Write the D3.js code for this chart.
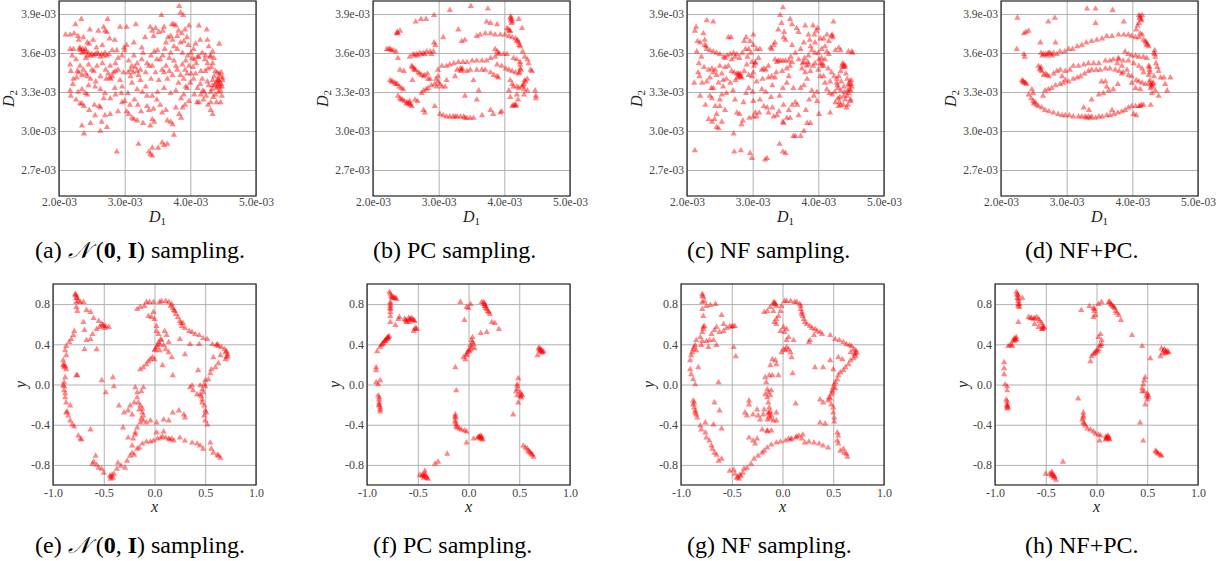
<!DOCTYPE html>
<html><head><meta charset="utf-8">
<script src="https://cdn.jsdelivr.net/npm/d3@7"></script>
<style>body{margin:0;background:#fff}svg{display:block}</style>
</head><body><svg id="c" width="1225" height="561"></svg>
<script>
// ---- data (top row in units of 1e-3) ----
const dataA=[[2.10,3.74],[2.17,3.74],[2.25,3.82],[2.34,3.86],[2.23,3.75],[2.29,3.73],
[2.32,3.64],[2.36,3.63],[2.41,3.61],[2.45,3.60],[2.50,3.59],[2.55,3.59],[2.60,3.59],[2.65,3.59],[2.70,3.60],[2.76,3.59],[2.81,3.62],[2.43,3.68],[2.46,3.67],[2.41,3.56],[2.53,3.58],[2.63,3.57],[2.17,3.63],[2.22,3.63],
[2.33,3.62],[2.38,3.61],[2.43,3.58],[2.48,3.58],[2.58,3.60],[2.68,3.58],[2.73,3.58],[2.35,3.60],[2.40,3.63],[2.31,3.63],
[2.47,3.78],[2.60,3.77],[2.70,3.77],[2.74,3.86],[2.73,3.76],[2.77,3.71],[2.68,3.80],
[2.17,3.51],[2.18,3.46],[2.32,3.50],[2.37,3.47],[2.35,3.43],[2.43,3.42],[2.48,3.40],[2.58,3.50],[2.63,3.42],[2.71,3.47],[2.78,3.50],[2.86,3.52],[2.81,3.42],[2.79,3.40],
[2.17,3.31],[2.18,3.27],[2.35,3.32],[2.40,3.29],[2.43,3.28],[2.55,3.34],[2.63,3.32],[2.70,3.29],[2.78,3.25],[2.68,3.25],[2.54,3.20],[2.61,3.19],[2.35,3.21],[2.38,3.19],[2.63,3.18],[2.32,3.21],
[2.48,3.06],[2.35,3.04],[2.38,2.98],[2.65,3.07],[2.73,3.03],[2.63,3.00],[2.78,3.13],[2.88,2.84],
[2.93,3.39],[2.96,3.34],[2.98,3.45],[2.99,3.64],[3.00,3.62],[3.03,3.66],[3.03,3.80],[2.93,3.80],[3.05,3.45],[3.09,3.42],[3.11,3.50],[3.14,3.58],[3.14,3.68],[3.17,3.82],[3.19,3.46],[3.24,3.47],[3.24,3.39],[3.19,3.32],[3.11,3.37],[3.15,3.24],[3.00,3.23],[2.96,3.22],[3.03,3.15],[3.11,3.10],[3.14,3.09],[3.19,3.08],[3.06,3.13],
[3.34,3.52],[3.37,3.50],[3.42,3.50],[3.39,3.80],[3.42,3.77],[3.44,3.73],[3.45,3.61],[3.49,3.55],[3.54,3.55],[3.57,3.47],[3.56,3.89],[3.58,3.77],[3.61,3.63],[3.63,3.68],[3.70,3.73],[3.72,3.82],[3.75,3.82],[3.78,3.81],[3.83,3.96],[3.85,3.91],[3.89,3.89],[3.80,3.73],[3.87,3.75],[3.85,3.68],[3.90,3.69],[3.95,3.72],[3.98,3.81],
[3.75,3.54],[3.78,3.50],[3.80,3.47],[3.85,3.43],[3.90,3.40],[3.95,3.44],[3.88,3.51],[3.93,3.54],[4.01,3.60],[4.03,3.56],[3.98,3.50],[4.01,3.44],[4.06,3.55],[4.11,3.57],[4.13,3.81],
[3.32,3.34],[3.34,3.27],[3.42,3.27],[3.34,3.19],[3.37,3.16],[3.44,3.17],[3.49,3.24],[3.54,3.20],[3.57,3.14],[3.42,3.09],[3.39,3.04],[3.45,3.07],[3.63,3.16],[3.65,3.08],[3.70,3.07],[3.73,3.05],[3.75,2.97],[3.78,3.18],[3.83,3.13],[3.86,3.10],[3.88,3.18],[3.92,3.20],[3.95,3.33],[3.98,3.23],[3.93,3.34],[3.78,3.31],[3.70,3.29],[3.60,3.33],
[3.21,2.90],[3.42,2.87],[3.57,2.91],[3.60,2.89],[3.65,2.90],[3.51,2.87],[3.37,2.84],[3.42,2.81],[3.39,2.82],
[4.16,3.46],[4.18,3.40],[4.21,3.30],[4.16,3.28],[4.13,3.22],[4.06,3.28],[4.11,3.33],[4.13,3.57],[4.18,3.60],[4.23,3.58],[4.26,3.52],[4.23,3.46],[4.26,3.38],[4.28,3.35],[4.31,3.30],[4.31,3.22],[4.31,3.16],[4.34,3.13],[4.34,3.35],[4.34,3.39],[4.36,3.42],[4.38,3.46],[4.39,3.37],[4.42,3.34],[4.43,3.39],[4.44,3.38],[4.45,3.34],[4.48,3.34],[4.49,3.39],[4.46,3.31],[4.48,3.27],[4.46,3.22],[4.44,3.67],[4.34,3.61],[4.31,3.58],[4.34,3.52],[4.26,3.70],[4.25,3.78],[4.28,3.65],[4.30,3.57],[4.41,3.45],[4.44,3.44],[4.49,3.41],
[4.42,3.40],[4.43,3.36],[4.40,3.33],[4.45,3.42],[4.37,3.35],[4.33,3.32],[4.47,3.36],[4.41,3.38],[4.32,3.49],[4.36,3.56],[4.22,3.55],[4.27,3.48],[4.09,3.52],[4.04,3.49],[3.96,3.58],[4.05,3.63],[3.92,3.47],[4.19,3.31],[4.20,3.24],
[3.75,3.65],[3.80,3.63],[3.68,3.56],[3.63,3.50],[3.68,3.46],[3.52,3.39],[3.19,3.52],[3.26,3.64],[3.26,3.55],[3.31,3.72],[2.88,3.62],[2.86,3.46],[2.90,3.47],[2.53,3.46],[2.27,3.41],[2.22,3.40],[2.21,3.36],
[2.75,3.44],[2.77,3.41],[2.83,3.45],[2.28,3.46],[2.30,3.45],[2.41,3.44],[3.09,3.47],[3.13,3.45],[3.16,3.49],[3.06,3.54],[3.21,3.43],
[3.47,3.79],[3.52,3.76],[3.60,3.80],[3.66,3.72],[3.73,3.70],[3.82,3.77],[3.92,3.78],[3.97,3.66],[4.08,3.67],[4.15,3.70],[3.28,3.60],[3.40,3.58],[3.50,3.62],[3.58,3.58],[3.70,3.60],[3.88,3.60],[3.65,3.40],[3.73,3.43],[3.82,3.37],[3.60,3.45],[3.47,3.45],[3.40,3.40],[3.32,3.45],[3.27,3.30],[3.50,3.30],[3.86,3.25],[3.90,3.28],[4.00,3.37],[4.05,3.40],[4.08,3.44],[4.10,3.22],[4.15,3.36],[4.24,3.27],[4.27,3.20],[4.38,3.28],[4.40,3.22],[4.35,3.26],[4.47,3.45],[4.43,3.30],
[2.20,3.58],[2.26,3.55],[2.30,3.70],[2.37,3.72],[2.52,3.70],[2.57,3.64],[2.66,3.66],[2.85,3.70],[2.90,3.56],[2.96,3.58],[2.45,3.51],[2.50,3.47],[2.66,3.52],[2.72,3.40],[2.56,3.38],[2.45,3.35],[2.29,3.30],[2.26,3.24],[2.46,3.16],[2.55,3.12],[2.70,3.12],[2.86,3.28],[2.90,3.15],[2.85,3.33],[2.95,3.29],[3.05,3.29],[3.08,3.20],[3.20,3.20],[3.25,3.15],[3.28,3.06]];

const dataB=[[2.21,3.63],[2.26,3.63],[2.31,3.62],[2.35,3.61],[2.38,3.56],[2.24,3.63],[2.28,3.62],
[2.37,3.76],[2.41,3.77],[2.38,3.75],[2.36,3.75],
[2.26,3.39],[2.30,3.38],[2.33,3.37],[2.37,3.36],[2.40,3.34],[2.43,3.33],[2.46,3.32],[2.28,3.38],[2.35,3.36],
[2.38,3.27],[2.41,3.25],[2.45,3.24],[2.48,3.23],[2.52,3.22],[2.56,3.21],[2.59,3.19],[2.51,3.21],[2.47,3.46],[2.43,3.24],[2.54,3.21],[2.57,3.20],
[2.59,3.50],[2.62,3.48],[2.65,3.47],[2.69,3.45],[2.74,3.43],[2.79,3.43],[2.83,3.44],[2.87,3.40],[2.60,3.49],[2.63,3.47],[2.71,3.44],[2.77,3.42],
[2.56,3.57],[2.61,3.59],[2.66,3.59],[2.71,3.60],[2.77,3.60],[2.82,3.61],[2.87,3.61],[2.92,3.61],[2.89,3.59],[2.63,3.58],[2.68,3.58],[2.74,3.59],[2.79,3.59],
[2.65,3.84],[2.73,3.86],[2.81,3.86],[2.93,3.89],[3.17,3.93],[3.49,3.96],[3.75,3.94],
[2.93,3.68],[2.95,3.66],[3.07,3.72],[3.30,3.78],[3.35,3.69],[3.40,3.70],
[3.58,3.73],[3.63,3.74],[3.71,3.75],[3.79,3.75],[3.86,3.74],[3.94,3.74],[4.01,3.74],[4.07,3.73],[4.12,3.72],[3.73,3.84],[3.79,3.83],[3.89,3.82],
[4.09,3.87],[4.10,3.85],[4.11,3.86],[4.12,3.84],[4.10,3.88],[4.11,3.83],[4.22,3.86],[4.27,3.79],
[4.04,3.79],[4.08,3.77],[4.09,3.77],[4.17,3.71],[4.19,3.69],[4.22,3.68],[4.24,3.65],[4.28,3.61],[4.31,3.57],[4.35,3.55],[4.37,3.52],[4.40,3.47],[4.42,3.46],[4.20,3.70],[4.23,3.66],[4.06,3.78],
[2.99,3.47],[3.05,3.50],[3.12,3.50],[3.17,3.51],[3.23,3.52],[3.30,3.53],[3.37,3.53],[3.43,3.53],[3.51,3.54],[3.58,3.54],[3.66,3.54],[3.73,3.54],[3.79,3.56],[3.86,3.57],[3.91,3.59],[3.99,3.59],[4.04,3.59],
[3.86,3.63],[3.89,3.61],[3.92,3.60],
[3.28,3.47],[3.33,3.48],[3.35,3.47],[3.43,3.46],[3.48,3.47],[3.58,3.47],[3.66,3.47],[3.71,3.47],[3.79,3.45],[3.84,3.43],[3.89,3.42],[3.91,3.41],[3.36,3.48],[3.34,3.46],
[3.89,3.51],[3.96,3.50],[4.02,3.48],[4.07,3.47],[4.12,3.46],[4.17,3.45],[4.22,3.44],[4.24,3.48],[4.24,3.51],[4.14,3.56],[4.19,3.55],[4.24,3.53],[4.23,3.45],[4.25,3.47],
[4.09,3.39],[4.12,3.36],[4.14,3.34],[4.19,3.34],[4.22,3.33],[4.27,3.34],[4.30,3.36],[4.32,3.38],[4.30,3.32],[4.35,3.40],[4.07,3.31],[4.09,3.26],[4.12,3.19],[4.14,3.20],[4.18,3.20],[4.21,3.24],[4.19,3.28],[4.30,3.28],[4.35,3.31],[4.47,3.31],[4.48,3.27],[4.48,3.25],[4.28,3.35],[4.31,3.39],[4.16,3.20],[4.17,3.19],
[3.96,3.15],[3.94,3.14],[3.79,3.16],[3.83,3.13],[3.66,3.12],
[3.02,3.13],[3.07,3.12],[3.12,3.11],[3.17,3.11],[3.22,3.11],[3.28,3.11],[3.33,3.11],[3.38,3.11],[3.43,3.10],[3.48,3.10],[3.53,3.10],[3.25,3.11],[3.40,3.10],
[2.94,3.19],[2.77,3.16],[2.79,3.14],[2.68,3.23],[2.74,3.29],[2.77,3.31],[2.81,3.32],[2.84,3.33],[2.89,3.35],[2.94,3.36],[2.97,3.34],[3.05,3.34],[3.10,3.34],[2.84,3.40],[2.96,3.40],[2.99,3.38],[3.12,3.39],[3.53,3.39],[3.61,3.31],[3.40,3.27],[3.58,3.24],[3.25,3.42],[2.99,3.42],[3.02,3.36],
[2.41,3.47],[2.56,3.23],[2.64,3.24],[2.60,3.39]];

const dataC=[[2.11,3.37],[2.12,2.85],[2.14,3.80],[2.12,3.77],[2.16,3.69],[2.20,3.68],[2.17,3.45],[2.19,3.42],[2.23,3.37],[2.20,3.27],[2.25,3.75],[2.27,3.70],[2.29,3.65],[2.22,3.57],[2.30,3.85],[2.40,3.84],[2.35,3.62],[2.40,3.61],[2.45,3.60],[2.50,3.59],[2.33,3.47],[2.35,3.41],[2.37,3.33],[2.43,3.47],[2.45,3.43],[2.48,3.37],[2.40,3.33],[2.35,3.27],[2.43,3.19],[2.50,3.19],[2.33,3.09],[2.38,3.07],[2.42,3.09],[2.48,3.02],[2.45,3.03],
[2.50,3.50],[2.53,3.44],[2.55,3.39],[2.55,3.34],[2.60,3.29],[2.50,3.24],[2.53,3.07],[2.58,3.16],[2.61,3.58],[2.66,3.59],[2.71,3.60],[2.76,3.59],[2.63,3.72],[2.67,3.72],[2.58,3.49],[2.68,3.46],[2.72,3.45],[2.76,3.44],[2.79,3.43],[2.82,3.42],[2.74,3.39],[2.66,3.37],[2.70,3.31],[2.73,3.24],[2.76,3.14],[2.80,3.13],[2.71,2.98],[2.72,2.84],[2.82,2.85],[2.83,3.05],[2.86,3.22],[2.90,3.29],[2.94,3.33],[2.89,3.63],[2.87,3.69],[2.90,3.72],[2.96,3.69],[2.94,3.63],[2.91,3.51],[2.87,3.46],[2.94,3.43],[2.99,3.42],[3.01,3.45],[3.04,3.53],[2.99,3.53],[3.01,3.66],[3.01,3.74],[2.96,2.83],[2.99,2.79],[3.01,3.23],[3.04,3.14],[3.01,3.11],[3.06,3.11],
[2.78,3.44],[2.80,3.42],[2.77,3.41],[2.81,3.44],[2.83,3.41],[2.56,3.57],[2.58,3.56],[2.30,3.63],[2.27,3.66],[2.40,3.45],[2.38,3.48],[3.04,3.52],[3.02,3.50],
[3.11,3.63],[3.14,3.47],[3.17,3.48],[3.20,3.47],[3.24,3.50],[3.27,3.64],[3.29,3.63],[3.32,3.66],[3.34,3.68],[3.34,3.55],[3.37,3.53],[3.39,3.54],[3.42,3.54],[3.46,3.54],[3.50,3.54],[3.55,3.54],[3.60,3.53],[3.29,3.42],[3.34,3.41],[3.24,3.41],[3.14,3.32],[3.11,3.24],[3.17,3.19],[3.22,3.18],[3.24,3.14],[3.32,3.11],[3.37,3.12],[3.46,3.07],[3.47,3.06],[3.52,3.10],[3.57,3.10],[3.41,3.27],[3.46,3.33],[3.52,3.37],[3.55,3.42],[3.57,3.50],[3.39,3.78],[3.44,3.83],[3.46,3.95],[3.42,3.89],[3.48,3.76],[3.47,3.72],[3.57,3.86],[3.60,3.82],[3.67,3.79],[3.70,3.76],[3.73,3.63],[3.78,3.53],[3.79,3.56],[3.80,3.81],[3.85,3.74],[3.87,3.70],[3.92,3.81],[3.97,3.77],[3.99,3.79],[3.94,3.74],[3.95,3.68],[4.03,3.71],[3.95,3.52],[3.92,3.50],[3.85,3.51],[3.88,3.46],[3.83,3.40],[3.78,3.35],[3.73,3.33],[3.62,3.33],[3.65,3.22],[3.68,3.20],[3.73,2.96],[3.62,2.96],[3.78,3.00],[3.83,3.06],[3.88,3.06],[3.81,3.16],[3.86,3.24],[3.90,3.31],[3.93,3.27],[3.98,3.30],[3.98,3.23],[4.01,3.13],[4.03,3.42],[4.01,3.55],[4.06,3.52],[4.08,3.50],[4.10,3.65],[4.13,3.61],[4.16,3.59],[4.05,3.63],[4.08,3.71],[4.13,3.74],[4.21,3.74],[4.16,3.69],[4.23,3.84],[4.08,3.42],[4.10,3.37],[4.13,3.32],[4.17,3.29],[4.21,3.28],[4.18,3.14],[4.26,3.22],[4.31,3.19],[4.34,3.20],[4.29,3.35],[4.30,3.33],[4.34,3.31],[4.39,3.34],[4.39,3.27],[4.41,3.24],[4.44,3.27],[4.46,3.29],[4.49,3.31],[4.49,3.24],[4.46,3.36],[4.48,3.38],[4.50,3.39],[4.51,3.34],[4.49,3.23],[4.36,3.50],[4.39,3.51],[4.40,3.49],[4.34,3.46],[4.31,3.42],[4.26,3.62],[4.31,3.64],[4.34,3.62],[4.46,3.61],[4.51,3.61],[4.52,3.60],[4.24,3.42],[4.28,3.40],
[4.38,3.49],[4.41,3.50],[4.37,3.52],[4.47,3.35],[4.48,3.32],[4.45,3.31],[4.50,3.36],[4.33,3.26],[4.32,3.22],[4.28,3.37],[4.03,3.52],[4.05,3.50],[4.00,3.47],[4.20,3.73],[4.22,3.72],[3.82,3.50],[3.84,3.53],[3.76,3.52],
[3.41,2.90],[3.46,2.84],[3.50,2.83],[3.19,2.78],[3.22,2.79],[3.65,2.96],
[2.15,3.61],[2.18,3.52],[2.26,3.49],[2.30,3.38],[2.28,3.20],[2.38,3.25],[2.45,3.13],[2.53,3.28],[2.60,3.40],[2.63,3.50],[2.68,3.55],[2.73,3.57],[2.80,3.56],[2.84,3.60],[2.92,3.57],[2.97,3.60],[3.06,3.63],[3.09,3.56],[3.15,3.40],[3.20,3.30],[3.28,3.26],[3.30,3.35],[3.36,3.45],[3.45,3.46],[3.52,3.48],[3.58,3.57],[3.65,3.60],[3.70,3.55],[3.75,3.48],[3.80,3.45],[3.85,3.58],[3.90,3.62],[3.95,3.60],[4.00,3.60],[4.05,3.56],[4.10,3.55],[4.15,3.48],[4.20,3.45],[4.18,3.38],[4.25,3.30],[4.35,3.38],[4.42,3.44],[4.44,3.40],[4.40,3.30],[4.45,3.20],[4.43,3.18],[4.38,3.20],[4.30,3.25],[3.60,3.20],[3.55,3.16],[3.70,3.12],[3.47,3.20],[3.40,3.15],[3.30,3.18],[3.10,3.14],[3.00,3.30],[3.06,3.38],[2.95,3.10],[2.85,3.08],[3.50,3.70],[3.60,3.66],[3.78,3.68],[3.88,3.65]];

const dataD=[[2.24,3.63],[2.25,3.87],[2.35,3.75],[2.38,3.76],[2.42,3.77],[2.35,3.59],[2.36,3.57],
[2.32,3.39],[2.34,3.38],[2.37,3.37],[2.39,3.36],[2.33,3.38],[2.36,3.37],[2.42,3.28],[2.47,3.32],[2.49,3.29],[2.46,3.25],[2.49,3.23],[2.52,3.22],[2.57,3.19],[2.62,3.18],[2.67,3.16],[2.73,3.15],[2.80,3.14],[2.87,3.13],[2.93,3.12],[2.98,3.12],[3.04,3.12],[3.10,3.11],[3.18,3.11],[3.23,3.11],[3.28,3.11],[3.33,3.11],[3.38,3.11],[3.44,3.10],[3.49,3.11],[3.54,3.11],[3.61,3.12],[3.66,3.12],[3.72,3.13],[3.78,3.14],[3.84,3.15],[3.89,3.16],[3.94,3.18],[3.99,3.19],[4.05,3.19],[4.10,3.19],[4.14,3.20],[4.17,3.20],[2.50,3.21],[2.54,3.20],[3.30,3.10],[3.36,3.10],[4.12,3.19],
[2.60,3.68],[2.61,3.60],[2.65,3.59],[2.68,3.59],[2.72,3.60],[2.76,3.59],[2.80,3.60],[2.83,3.68],[2.72,3.84],[2.82,3.87],[2.85,3.59],[2.90,3.61],[2.97,3.61],[3.03,3.63],[3.09,3.63],[3.16,3.65],[3.23,3.66],[3.30,3.68],[3.38,3.69],[3.46,3.70],[3.54,3.71],[3.61,3.73],[3.69,3.73],[3.79,3.74],[3.87,3.74],[3.94,3.74],[3.99,3.73],[4.05,3.72],[4.10,3.72],[4.12,3.75],[4.15,3.74],[4.17,3.70],[4.20,3.69],[4.22,3.66],[4.25,3.65],[2.63,3.58],[2.70,3.58],[2.74,3.60],[2.78,3.58],
[4.10,3.89],[4.12,3.88],[4.13,3.86],[4.15,3.89],[4.10,3.83],[4.08,3.81],[4.06,3.78],[4.11,3.87],[4.14,3.85],[3.31,3.94],[3.44,3.94],[3.70,3.93],[3.44,3.83],[3.87,3.84],
[2.57,3.50],[2.60,3.47],[2.62,3.46],[2.65,3.43],[2.70,3.43],[2.73,3.42],[2.80,3.44],[2.85,3.46],[2.90,3.47],[2.98,3.46],[3.05,3.47],[3.10,3.50],[3.18,3.50],[3.26,3.51],[3.33,3.52],[3.41,3.52],[3.49,3.52],[3.59,3.54],[3.66,3.54],[3.71,3.55],[3.79,3.55],[3.86,3.54],[3.94,3.54],[4.02,3.52],[4.10,3.50],[4.15,3.48],[4.17,3.45],[2.59,3.48],[2.61,3.49],[2.68,3.44],
[2.93,3.42],[2.98,3.39],[3.03,3.38],[3.10,3.40],[3.16,3.41],[3.21,3.42],[3.27,3.44],[3.33,3.46],[3.38,3.47],[3.45,3.47],[3.51,3.47],[3.59,3.48],[3.66,3.48],[3.74,3.47],[3.80,3.46],[3.86,3.45],[3.94,3.43],[3.99,3.42],[4.06,3.39],[4.10,3.38],[4.15,3.37],[4.20,3.36],
[2.77,3.33],[2.83,3.35],[2.90,3.36],[2.95,3.37],[2.67,3.31],[2.72,3.32],[2.64,3.27],[3.38,3.24],[3.49,3.28],[3.56,3.29],[3.64,3.31],[3.71,3.32],[3.26,3.18],[3.34,3.16],[3.69,3.16],[4.02,3.13],
[3.89,3.61],[3.94,3.59],[3.99,3.58],[4.05,3.58],[4.10,3.57],[4.17,3.57],[4.22,3.56],[3.79,3.56],[3.77,3.52],[3.84,3.50],[3.92,3.47],[4.25,3.50],[4.26,3.47],[4.25,3.43],[4.27,3.39],[4.28,3.36],[4.30,3.34],[4.32,3.37],[4.33,3.42],[4.34,3.62],[4.35,3.57],[4.36,3.52],[4.38,3.49],[4.40,3.46],[4.43,3.41],[4.48,3.41],[4.50,3.36],[4.53,3.31],[4.58,3.41],[4.35,3.31],[4.40,3.27],[4.30,3.29],[4.12,3.32],[4.05,3.33],[3.99,3.37],[4.06,3.12],[4.28,3.20],[3.84,3.44],[3.59,3.38],[3.61,3.34],[3.53,3.38],[3.78,3.36],
[4.26,3.49],[4.27,3.45],[4.29,3.35],[4.28,3.33],[4.31,3.36],[4.26,3.37],[4.34,3.59],[4.33,3.60],[4.21,3.68],[4.23,3.67]];

const dataE=[[-0.78,0.90],[-0.77,0.88],[-0.76,0.86],[-0.75,0.83],[-0.77,0.82],[-0.73,0.82],[-0.70,0.82],[-0.77,0.77],[-0.76,0.73],[-0.67,0.74],[-0.63,0.72],[-0.60,0.66],[-0.55,0.63],[-0.52,0.60],[-0.50,0.58],[-0.48,0.58],[-0.45,0.57],[-0.54,0.57],[-0.57,0.55],[-0.61,0.50],[-0.63,0.45],[-0.67,0.44],[-0.70,0.62],[-0.69,0.54],[-0.57,0.35],[-0.69,0.35],[-0.78,0.89],[-0.77,0.86],[-0.51,0.59],[-0.49,0.56],
[-0.79,0.53],[-0.80,0.49],[-0.82,0.45],[-0.84,0.42],[-0.87,0.38],[-0.88,0.34],[-0.87,0.29],[-0.90,0.24],[-0.90,0.19],[-0.89,0.17],[-0.87,0.15],[-0.88,0.07],[-0.89,0.02],[-0.90,-0.01],[-0.89,-0.06],[-0.88,-0.13],[-0.87,-0.18],[-0.83,-0.21],[-0.87,-0.28],[-0.85,-0.31],[-0.83,-0.36],[-0.81,-0.40],[-0.79,-0.42],[-0.75,-0.51],[-0.73,-0.54],[-0.72,-0.55],[-0.63,-0.45],[-0.58,-0.71],[-0.60,-0.77],[-0.61,-0.79],[-0.57,-0.80],[-0.55,-0.83],[-0.52,-0.84],[-0.50,-0.88],[-0.77,0.09],[-0.76,0.09],[-0.89,0.20],[-0.88,0.18],[-0.89,-0.02],[-0.88,-0.09],[-0.86,-0.27],
[-0.44,-0.91],[-0.43,-0.94],[-0.41,-0.93],[-0.40,-0.89],[-0.37,-0.84],[-0.36,-0.78],[-0.33,-0.81],[-0.29,-0.83],[-0.27,-0.76],[-0.24,-0.71],[-0.22,-0.68],[-0.20,-0.70],[-0.17,-0.64],[-0.15,-0.63],[-0.12,-0.59],[-0.08,-0.57],[-0.04,-0.57],[-0.01,-0.56],[0.03,-0.54],[0.06,-0.53],[0.11,-0.53],[0.14,-0.54],[0.17,-0.54],[0.19,-0.56],[0.25,-0.53],[0.30,-0.56],[0.37,-0.58],[0.42,-0.59],[0.45,-0.61],[0.48,-0.64],[0.55,-0.58],[0.56,-0.64],[0.58,-0.68],[0.62,-0.70],[0.65,-0.73],[-0.26,-0.53],[-0.19,-0.50],[-0.22,-0.61],[0.02,-0.48],[0.09,-0.47],[-0.43,-0.92],[-0.42,-0.90],[0.08,-0.52],[0.15,-0.55],[0.63,-0.71],
[-0.52,0.04],[-0.41,0.07],[-0.48,-0.08],[-0.40,-0.02],[-0.35,-0.21],[-0.30,-0.28],[-0.26,-0.26],[-0.22,-0.30],[-0.24,-0.21],[-0.20,-0.18],[-0.19,-0.03],[-0.17,-0.08],[-0.17,-0.13],[-0.16,-0.18],[-0.14,-0.21],[-0.15,-0.25],[-0.12,-0.28],[-0.11,-0.31],[-0.11,-0.36],[-0.14,-0.38],[-0.17,-0.43],[-0.19,-0.48],[-0.21,-0.54],[-0.31,-0.43],[-0.11,-0.03],[-0.13,-0.07],[-0.08,-0.38],[-0.04,-0.36],[0.02,-0.38],[0.09,-0.35],[0.14,-0.36],[0.18,-0.28],[0.24,-0.26],[0.29,-0.30],[0.30,-0.33],[-0.13,-0.34],[-0.12,-0.24],
[-0.14,0.15],[-0.11,0.17],[-0.08,0.20],[-0.06,0.23],[-0.04,0.25],[-0.02,0.27],[0.00,0.34],[0.01,0.35],[0.02,0.37],[0.04,0.42],[0.06,0.45],[0.07,0.44],[0.09,0.39],[0.11,0.35],[0.14,0.32],[0.17,0.27],[0.18,0.09],[0.08,0.19],[0.05,0.34],[0.00,0.25],[0.03,0.39],[0.05,0.40],
[-0.17,0.75],[-0.14,0.77],[-0.10,0.78],[-0.08,0.82],[-0.05,0.82],[-0.01,0.82],[-0.06,0.68],[-0.03,0.67],[-0.01,0.72],[0.00,0.65],[0.02,0.58],[0.02,0.53],[0.04,0.50],[0.05,0.82],[0.07,0.83],[0.11,0.83],[0.14,0.82],[0.16,0.78],[0.18,0.76],[0.20,0.73],[0.21,0.70],[0.23,0.67],[0.25,0.63],[0.28,0.61],[0.27,0.58],[0.30,0.56],[0.34,0.53],[0.37,0.52],[0.40,0.50],[0.44,0.49],[0.48,0.46],[0.52,0.45],[0.57,0.40],[0.62,0.40],[0.63,0.38],[0.66,0.37],[0.69,0.35],[0.71,0.33],[0.72,0.30],[0.71,0.27],[0.70,0.25],[0.65,0.29],[0.63,0.21],[0.60,0.17],[0.56,0.15],[0.55,0.11],[0.53,0.05],[0.50,0.04],[0.49,0.00],[0.47,-0.05],[0.45,-0.10],[0.47,-0.15],[0.49,-0.21],[0.50,-0.26],[0.49,-0.31],[0.50,-0.36],[0.52,-0.40],[0.42,-0.10],[0.43,0.14],[0.38,-0.06],[0.37,-0.01],[0.35,-0.03],[0.45,-0.01],[0.47,-0.18],[0.30,0.30],[0.25,0.45],[0.35,0.40],[0.44,0.40],[0.58,0.27],[0.12,0.49],[0.14,0.42],[0.10,0.53],
[0.17,0.80],[0.19,0.74],[0.26,0.61],[0.70,0.32],[0.72,0.28],[0.61,0.39],[0.50,-0.02],[0.48,-0.08],[0.51,-0.28],[0.46,-0.12]];

const dataF=[[-0.78,0.92],[-0.77,0.90],[-0.76,0.88],[-0.74,0.87],[-0.72,0.86],[-0.71,0.85],[-0.75,0.86],[-0.73,0.86],[-0.76,0.87],
[-0.77,0.82],[-0.77,0.78],[-0.77,0.75],[-0.77,0.72],[-0.77,0.68],[-0.77,0.62],[-0.72,0.59],[-0.69,0.65],[-0.68,0.67],[-0.77,0.80],[-0.77,0.76],
[-0.63,0.65],[-0.61,0.63],[-0.59,0.66],[-0.58,0.65],[-0.56,0.66],[-0.54,0.64],[-0.53,0.63],[-0.58,0.62],[-0.61,0.62],[-0.53,0.55],[-0.51,0.55],[-0.54,0.53],[-0.57,0.65],[-0.55,0.64],[-0.62,0.64],[-0.52,0.56],
[-0.90,0.33],[-0.87,0.37],[-0.86,0.39],[-0.84,0.41],[-0.82,0.43],[-0.81,0.45],[-0.79,0.46],[-0.78,0.48],[-0.80,0.47],[-0.83,0.43],[-0.85,0.40],[-0.80,0.45],[-0.82,0.44],[-0.79,0.47],
[-0.91,0.17],[-0.91,0.14],[-0.91,0.02],[-0.89,0.00],[-0.87,0.04],
[-0.89,-0.11],[-0.88,-0.15],[-0.88,-0.18],[-0.88,-0.21],[-0.87,-0.25],[-0.87,-0.27],[-0.88,-0.20],[-0.87,-0.23],[-0.88,-0.13],
[-0.48,-0.90],[-0.46,-0.91],[-0.44,-0.91],[-0.43,-0.91],[-0.41,-0.93],[-0.43,-0.86],[-0.40,-0.94],[-0.33,-0.79],[-0.30,-0.77],[-0.21,-0.69],[-0.44,-0.93],[-0.42,-0.92],[-0.43,-0.89],[-0.45,-0.90],
[-0.13,-0.30],[-0.13,-0.33],[-0.13,-0.36],[-0.12,-0.40],[-0.12,-0.42],[-0.09,-0.44],[-0.07,-0.45],[-0.04,-0.46],[-0.02,-0.47],[-0.02,-0.58],[0.05,-0.54],[-0.13,-0.32],[-0.13,-0.38],[-0.11,-0.43],
[0.09,-0.53],[0.11,-0.53],[0.13,-0.54],[0.12,-0.51],[0.14,-0.55],[0.10,-0.52],[0.12,-0.54],[0.11,-0.52],[0.13,-0.52],
[-0.05,0.27],[-0.03,0.25],[-0.02,0.29],[-0.01,0.32],[0.00,0.34],[0.02,0.35],[0.02,0.39],[0.03,0.44],[0.04,0.47],[0.05,0.40],[0.06,0.36],[-0.13,0.17],[-0.12,-0.06],[-0.04,0.64],[0.01,0.33],[0.03,0.37],[0.04,0.42],[-0.02,0.30],
[-0.08,0.82],[-0.02,0.77],[0.00,0.76],[0.02,0.80],
[0.13,0.82],[0.15,0.80],[0.16,0.78],[0.17,0.76],[0.19,0.73],[0.20,0.72],[0.21,0.70],[0.15,0.82],[0.16,0.80],[0.18,0.75],[0.17,0.78],
[0.12,0.51],[0.18,0.52],[0.23,0.62],[0.26,0.61],[0.30,0.55],
[0.69,0.36],[0.71,0.35],[0.72,0.34],[0.74,0.33],[0.71,0.33],[0.70,0.34],[0.68,0.29],[0.72,0.32],[0.73,0.32],[0.70,0.36],
[0.49,0.06],[0.48,0.00],[0.48,-0.05],[0.47,-0.07],[0.48,-0.11],[0.49,-0.18],[0.51,-0.08],[0.52,-0.10],[0.53,-0.11],[0.44,-0.30],[0.48,-0.02],[0.52,-0.13],[0.51,-0.12],
[0.54,-0.61],[0.56,-0.63],[0.58,-0.64],[0.59,-0.66],[0.61,-0.68],[0.63,-0.70],[0.64,-0.72],[0.60,-0.67],[0.62,-0.69]];

const dataG=[[-0.79,0.90],[-0.78,0.87],[-0.77,0.83],[-0.79,0.82],[-0.75,0.78],[-0.71,0.79],[-0.66,0.80],[-0.79,0.75],[-0.78,0.68],[-0.77,0.58],[-0.78,0.55],[-0.79,0.52],[-0.60,0.69],[-0.58,0.60],[-0.65,0.57],[-0.67,0.54],[-0.70,0.50],[-0.72,0.44],[-0.75,0.43],[-0.79,0.43],[-0.81,0.47],[-0.85,0.44],[-0.86,0.39],[-0.88,0.35],[-0.89,0.32],[-0.90,0.29],[-0.91,0.24],[-0.85,0.34],[-0.80,0.39],[-0.73,0.37],[-0.65,0.39],[-0.62,0.52],[-0.58,0.53],[-0.55,0.56],[-0.52,0.58],[-0.49,0.58],[-0.47,0.58],[-0.48,0.37],[-0.46,0.28],[-0.68,0.44],[-0.91,0.15],[-0.90,0.10],[-0.88,0.05],[-0.86,0.00],[-0.83,0.17],[-0.63,0.02],[-0.79,0.88],[-0.78,0.57],[-0.50,0.57],[-0.87,0.37],
[-0.88,-0.16],[-0.88,-0.20],[-0.87,-0.23],[-0.86,-0.26],[-0.85,-0.30],[-0.84,-0.33],[-0.81,-0.41],[-0.80,-0.45],[-0.76,-0.48],[-0.75,-0.53],[-0.72,-0.56],[-0.70,-0.61],[-0.69,-0.64],[-0.67,-0.68],[-0.65,-0.70],[-0.63,-0.76],[-0.60,-0.74],[-0.67,-0.18],[-0.62,-0.26],[-0.68,-0.40],[-0.60,-0.44],[-0.76,-0.38],[-0.87,-0.18],[-0.86,-0.28],
[-0.52,-0.86],[-0.48,-0.85],[-0.47,-0.89],[-0.45,-0.93],[-0.43,-0.94],[-0.41,-0.91],[-0.39,-0.88],[-0.38,-0.84],[-0.35,-0.83],[-0.31,-0.79],[-0.28,-0.74],[-0.24,-0.71],[-0.20,-0.68],[-0.18,-0.66],[-0.15,-0.63],[-0.11,-0.60],[-0.06,-0.58],[-0.02,-0.57],[0.03,-0.56],[0.06,-0.54],[0.09,-0.54],[0.13,-0.53],[0.16,-0.51],[0.20,-0.50],[0.19,-0.54],[0.22,-0.58],[0.26,-0.57],[0.31,-0.58],[0.36,-0.59],[0.40,-0.61],[0.45,-0.63],[0.54,-0.48],[0.55,-0.51],[0.54,-0.56],[0.55,-0.59],[0.57,-0.66],[0.60,-0.64],[0.61,-0.68],[0.63,-0.69],[0.64,-0.72],[-0.33,-0.53],[-0.29,-0.56],[-0.27,-0.59],[-0.25,-0.54],[-0.20,-0.45],[-0.15,-0.47],[-0.44,-0.92],[-0.42,-0.90],[0.08,-0.55],[0.14,-0.52],
[-0.37,-0.28],[-0.35,-0.31],[-0.33,-0.20],[-0.33,-0.16],[-0.29,-0.30],[-0.25,-0.25],[-0.24,-0.31],[-0.22,-0.35],[-0.19,-0.30],[-0.18,-0.25],[-0.15,-0.35],[-0.14,-0.28],[-0.13,-0.23],[-0.14,-0.18],[-0.15,-0.13],[-0.17,-0.10],[-0.15,-0.05],[-0.14,-0.08],[-0.12,-0.11],[-0.11,-0.06],[-0.16,0.02],[-0.17,0.07],[-0.13,0.09],[-0.10,0.09],[-0.12,0.19],[-0.10,0.25],[-0.07,0.24],[-0.06,0.20],[-0.04,0.09],[-0.09,-0.36],[-0.06,-0.36],[-0.11,-0.46],[-0.15,-0.46],[-0.06,-0.28],[-0.13,-0.29],[-0.11,-0.31],[-0.12,-0.34],[-0.13,-0.32],[-0.12,-0.27],
[-0.01,0.32],[0.01,0.35],[0.03,0.34],[0.04,0.37],[0.06,0.35],[0.08,0.32],[0.09,0.27],[0.10,0.11],[0.04,0.44],[0.06,0.47],[0.11,0.44],[-0.02,0.53],[0.01,0.57],[0.04,0.55],[0.02,0.52],[-0.06,0.60],[-0.08,0.62],[-0.06,0.65],[-0.04,0.68],[-0.02,0.73],[-0.09,0.73],[-0.12,0.77],[-0.15,0.73],[-0.18,0.72],[-0.08,0.82],[-0.07,0.80],[-0.06,0.78],[-0.01,0.78],[0.02,0.83],[0.04,0.83],[0.08,0.83],[0.12,0.82],[0.14,0.82],[0.17,0.80],[0.18,0.75],[0.19,0.72],[0.20,0.68],[0.21,0.65],[0.22,0.62],[0.24,0.60],[0.27,0.58],[0.29,0.56],[0.32,0.55],[0.34,0.53],[0.37,0.52],[0.39,0.50],[0.31,0.49],[0.27,0.44],[0.26,0.42],[0.47,0.49],[0.52,0.45],[0.56,0.44],[0.60,0.42],[0.63,0.40],[0.66,0.39],[0.68,0.38],[0.70,0.35],[0.72,0.34],[0.73,0.32],[0.72,0.28],[0.70,0.26],[0.67,0.24],[0.65,0.20],[0.62,0.17],[0.60,0.14],[0.57,0.12],[0.55,0.09],[0.54,0.05],[0.52,0.02],[0.50,-0.03],[0.49,-0.06],[0.48,-0.10],[0.46,-0.13],[0.45,-0.16],[0.48,-0.20],[0.50,-0.23],[0.50,-0.28],[0.51,-0.33],[0.51,-0.37],[0.37,-0.38],[0.42,-0.39],[0.40,-0.18],[0.37,-0.15],[0.32,0.17],[0.40,0.17],[0.47,0.24],[0.50,0.15],[0.55,0.27],[0.59,0.25],[0.67,0.32],[0.13,-0.19],
[-0.08,0.80],[-0.09,0.81],[0.18,0.78],[0.19,0.70],[0.72,0.31],[0.71,0.30],[0.51,0.00],[0.49,-0.08],[0.52,-0.04],[0.47,-0.14]];

const dataH=[[-0.79,0.92],[-0.78,0.90],[-0.77,0.88],[-0.78,0.86],[-0.77,0.83],[-0.76,0.80],[-0.77,0.78],[-0.76,0.77],[-0.73,0.86],[-0.77,0.62],[-0.78,0.89],[-0.77,0.85],[-0.77,0.80],
[-0.67,0.67],[-0.64,0.66],[-0.62,0.65],[-0.61,0.66],[-0.59,0.67],[-0.57,0.65],[-0.56,0.63],[-0.54,0.61],[-0.53,0.58],[-0.52,0.56],[-0.54,0.55],[-0.57,0.57],[-0.61,0.60],[-0.52,0.57],[-0.53,0.55],[-0.65,0.66],
[-0.87,0.38],[-0.85,0.39],[-0.84,0.40],[-0.82,0.44],[-0.80,0.45],[-0.79,0.47],[-0.80,0.44],[-0.83,0.38],[-0.81,0.46],[-0.79,0.45],[-0.81,0.43],
[-0.91,0.22],[-0.91,0.16],[-0.91,0.10],[-0.90,0.00],[-0.88,-0.02],[-0.88,-0.06],[-0.89,-0.15],[-0.88,-0.20],[-0.88,-0.21],[-0.88,-0.24],[-0.88,-0.17],[-0.88,-0.22],[-0.87,-0.23],
[-0.50,-0.89],[-0.46,-0.89],[-0.44,-0.87],[-0.42,-0.91],[-0.41,-0.92],[-0.44,-0.91],[-0.40,-0.95],[-0.33,-0.77],[-0.43,-0.90],[-0.42,-0.93],[-0.44,-0.89],
[-0.18,-0.14],
[-0.13,-0.28],[-0.13,-0.31],[-0.14,-0.35],[-0.13,-0.38],[-0.11,-0.41],[-0.09,-0.44],[-0.06,-0.45],[-0.03,-0.47],[-0.01,-0.49],[0.02,-0.50],[0.04,-0.51],[0.03,-0.56],[-0.13,-0.33],[-0.12,-0.39],
[0.09,-0.52],[0.10,-0.53],[0.12,-0.54],[0.11,-0.51],[0.09,-0.55],[0.13,-0.55],[0.11,-0.53],[0.12,-0.52],[0.10,-0.54],
[-0.03,0.30],[-0.01,0.32],[0.00,0.34],[0.02,0.35],[0.03,0.39],[0.05,0.40],[0.05,0.44],[0.04,0.50],[0.02,0.47],[-0.05,0.28],[-0.06,0.23],[0.01,0.33],[0.04,0.38],[-0.02,0.31],
[-0.15,0.74],[-0.07,0.78],[-0.03,0.76],[-0.02,0.73],[-0.03,0.67],[-0.01,0.69],[0.02,0.80],[0.05,0.82],[0.12,0.82],[0.14,0.80],[0.16,0.78],[0.18,0.76],[0.19,0.73],[0.20,0.71],[0.22,0.69],[0.24,0.64],[0.13,0.82],[-0.02,0.75],[0.15,0.79],[0.17,0.77],
[0.35,0.49],[0.45,0.38],[0.53,0.26],
[0.64,0.36],[0.66,0.34],[0.68,0.33],[0.69,0.32],[0.71,0.32],[0.68,0.31],[0.65,0.31],[0.63,0.28],[0.67,0.35],[0.70,0.33],
[0.48,0.07],[0.47,0.04],[0.46,0.00],[0.45,-0.04],[0.45,-0.07],[0.47,-0.07],[0.50,-0.09],[0.51,-0.11],[0.50,-0.15],[0.48,-0.20],[0.43,-0.38],[0.46,-0.56],[0.51,-0.13],[0.49,-0.12],
[0.58,-0.66],[0.60,-0.68],[0.61,-0.69],[0.63,-0.70],[0.64,-0.71],[0.59,-0.67]];

// ---- ticks & captions ----
const topXTicks=[2.0,3.0,4.0,5.0];
const topYTicks=[2.7,3.0,3.3,3.6,3.9];
const botXTicks=[-1.0,-0.5,0.0,0.5,1.0];
const botYTicks=[-0.8,-0.4,0.0,0.4,0.8];
const topDomainX=[2.0,5.0], topDomainY=[2.5,4.0];
const botDomainX=[-1.0,1.0], botDomainY=[-1.0,1.0];
const topLetters=["a","b","c","d"], botLetters=["e","f","g","h"];
const captionKinds=["normal","PC sampling.","NF sampling.","NF+PC."];

const svg=d3.select("#c");
const serif="'Liberation Serif','Times New Roman',serif";
const tri=d3.symbol().type(d3.symbolTriangle).size(17);

function panel(data,L,T,W,H,dx,dy,xt,yt,fmt,xlab,ylab,sub){
  const g=svg.append("g").attr("transform",`translate(${L},${T})`);
  const x=d3.scaleLinear().domain(dx).range([0,W]);
  const y=d3.scaleLinear().domain(dy).range([H,0]);
  const fs=sub?11.5:12;
  g.append("g").attr("transform",`translate(0,${H})`)
   .call(d3.axisBottom(x).tickValues(xt).tickSize(-H).tickFormat(""))
   .call(a=>{a.select(".domain").remove();a.selectAll("line").attr("stroke","#b0b0b0").attr("stroke-width",1);});
  g.append("g")
   .call(d3.axisLeft(y).tickValues(yt).tickSize(-W).tickFormat(""))
   .call(a=>{a.select(".domain").remove();a.selectAll("line").attr("stroke","#b0b0b0").attr("stroke-width",1);});
  g.append("g").attr("transform",`translate(0,${H})`)
   .call(d3.axisBottom(x).tickValues(xt).tickSize(0).tickPadding(sub?2:3).tickFormat(fmt))
   .call(a=>{a.select(".domain").remove();a.selectAll("text").attr("font-family",serif).attr("font-size",fs).attr("fill","#444");});
  g.append("g")
   .call(d3.axisLeft(y).tickValues(yt).tickSize(0).tickPadding(3).tickFormat(fmt))
   .call(a=>{a.select(".domain").remove();a.selectAll("text").attr("font-family",serif).attr("font-size",fs).attr("fill","#444");});
  g.append("g").selectAll("path").data(data).join("path")
   .attr("d",tri).attr("transform",d=>`translate(${x(d[0])},${y(d[1])})`)
   .attr("fill","#ff0000").attr("fill-opacity",0.47);
  g.append("rect").attr("x",0).attr("y",0).attr("width",W).attr("height",H)
   .attr("fill","none").attr("stroke","#222").attr("stroke-width",1.2);
  const xl=g.append("text").attr("x",W/2).attr("y",H+(sub?26:27)).attr("text-anchor","middle")
   .attr("font-family",serif).attr("font-size",16).attr("fill","#222");
  xl.append("tspan").attr("font-style","italic").text(xlab);
  if(sub){xl.append("tspan").attr("font-size",11).attr("dy",3).text("1");}
  const yl=g.append("text").attr("transform",`translate(${sub?-45:-27},${H/2}) rotate(-90)`).attr("text-anchor","middle")
   .attr("font-family",serif).attr("font-size",16).attr("fill","#222");
  yl.append("tspan").attr("font-style","italic").text(ylab);
  if(sub){yl.append("tspan").attr("font-size",11).attr("dy",3).text("2");}
}

const topData=[dataA,dataB,dataC,dataD], botData=[dataE,dataF,dataG,dataH];
const topFmt=d=>d.toFixed(1)+"e-03", botFmt=d=>d.toFixed(1);
const topLefts=[59,373,687,1001], botLefts=[53,367,681,995];
const capStarts=[35,373,687,1025];
topData.forEach((d,i)=>panel(d,topLefts[i],1,197,195,topDomainX,topDomainY,topXTicks,topYTicks,topFmt,"D","D",true));
botData.forEach((d,i)=>panel(d,botLefts[i],284,203,201,botDomainX,botDomainY,botXTicks,botYTicks,botFmt,"x","y",false));

function caption(letter,kind,x,yb){
  const t=svg.append("text").attr("x",x).attr("y",yb).attr("font-family",serif).attr("font-size",24).attr("fill","#000");
  t.append("tspan").text(`(${letter}) `);
  if(kind==="normal"){
    t.append("tspan").attr("font-family","'DejaVu Serif',serif").attr("font-style","italic").attr("font-size",23).text("𝒩");
    t.append("tspan").text(" (");
    t.append("tspan").attr("font-weight","bold").text("0");
    t.append("tspan").text(", ");
    t.append("tspan").attr("font-weight","bold").text("I");
    t.append("tspan").text(") sampling.");
  } else t.append("tspan").text(kind);
}
topLetters.forEach((l,i)=>caption(l,captionKinds[i],capStarts[i],258));
botLetters.forEach((l,i)=>caption(l,captionKinds[i],capStarts[i],553));
</script></body></html>
